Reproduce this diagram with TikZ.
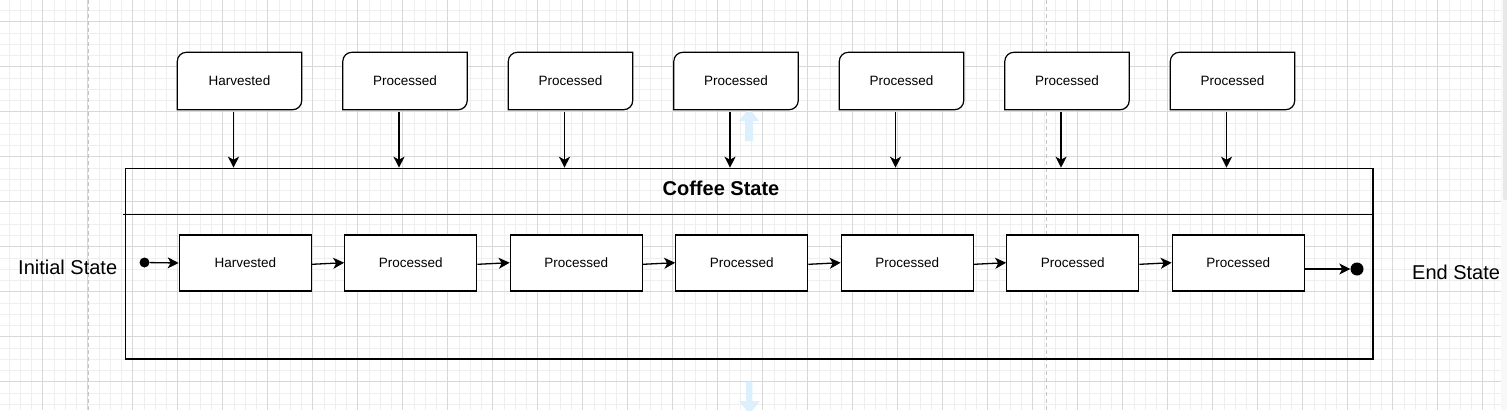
\documentclass[tikz,border=0pt]{standalone}
\usepackage{fontspec}
\setmainfont{Liberation Sans}
\usetikzlibrary{positioning}
\usetikzlibrary{arrows.meta}
\definecolor{gridmajor}{RGB}{216,216,216}
\definecolor{gridminor}{RGB}{239,239,239}
\definecolor{pageline}{RGB}{196,196,196}
\definecolor{hint}{RGB}{220,239,252}
\definecolor{scrollbg}{RGB}{248,248,248}
\definecolor{scrollthumb}{RGB}{232,232,232}

\tikzset{
  statebox/.style={draw,fill=white,line width=1.2pt,minimum width=132pt,minimum height=56pt,inner sep=0pt,font=\fontsize{13.5}{16}\selectfont},
  cardbox/.style={minimum width=124pt,minimum height=57pt,inner sep=0pt,font=\fontsize{13.5}{16}\selectfont},
  cardline/.style={draw,fill=white,line width=1.2pt},
  flow/.style={line width=1.3pt,-{Stealth[length=11pt,width=11pt,inset=3pt]}},
  dot/.style={circle,fill,inner sep=0pt},
  biglabel/.style={anchor=west,inner sep=0pt,font=\fontsize{20}{24}\selectfont},
}

\begin{document}
\begin{tikzpicture}[x=1pt,y=1pt]

  \useasboundingbox (0,0) rectangle (1507,-410);
  \fill[white] (0,0) rectangle (1507,-410);

  \foreach \k in {0,...,132}
    \draw[gridminor,line width=0.9pt] (8.95+11.25*\k,0) -- (8.95+11.25*\k,-410);
  \foreach \k in {0,...,35}
    \draw[gridminor,line width=0.9pt] (0,-10.45-11.25*\k) -- (1501,-10.45-11.25*\k);
  \foreach \k in {0,...,32}
    \draw[gridmajor,line width=0.9pt] (42.7+45*\k,0) -- (42.7+45*\k,-410);
  \foreach \k in {0,...,8}
    \draw[gridmajor,line width=0.9pt] (0,-21.7-45*\k) -- (1501,-21.7-45*\k);
  \fill[scrollbg] (1501,0) rectangle (1507,-410);
  \fill[scrollthumb,rounded corners=2pt] (1503,2) rectangle (1507,-200);

  \draw[pageline,line width=1pt,dash pattern=on 4pt off 3pt] (88.5,0) -- (88.5,-410);
  \draw[pageline,line width=1pt,dash pattern=on 4pt off 3pt] (1046,0) -- (1046,-410);

  \fill[hint] (749,-108) -- (759,-121) -- (753,-121) -- (753,-141) -- (745,-141) -- (745,-121) -- (739,-121) -- cycle;
  \fill[hint] (746,-381.7) -- (752.3,-381.7) -- (752.3,-401) -- (760,-401) -- (749.5,-414) -- (739,-401) -- (746,-401) -- cycle;

  \node[draw,line width=1.2pt,minimum width=1247.3pt,minimum height=190.6pt,anchor=north west] (coffee) at (125,-167.7) {};
  \node[font=\bfseries\fontsize{20}{24}\selectfont] (title) at (721,-188) {Coffee State};
  \coordinate (sep) at (123,-214.3);
  \draw[line width=1.2pt] (sep) -- (sep -| coffee.east);

  \foreach \i/\t in {0/Harvested,1/Processed,2/Processed,3/Processed,4/Processed,5/Processed,6/Processed} {
    \node[cardbox] (c\i) at (239.5+165.5*\i,-81) {};
    \draw[cardline] (c\i.south west) -- ([yshift=-9pt]c\i.north west)
      arc[start angle=180,end angle=90,radius=9pt] -- (c\i.north east)
      -- ([yshift=9pt]c\i.south east) arc[start angle=0,end angle=-90,radius=9pt] -- cycle;
    \node[cardbox] at (c\i) {\t};
    \draw[flow] ([xshift=-6pt,yshift=-2pt]c\i.south) -- ([xshift=-6pt]c\i.south |- coffee.north);
    \node[statebox] (s\i) at (245.3+165.5*\i,-263) {\t};
  }

  \node[dot,minimum size=10pt] (init) at (144.5,-262.5) {};
  \node[dot,minimum size=13pt] (final) at (1357,-269) {};

  \draw[flow] (init) -- (s0.west);
  \foreach \i [evaluate=\i as \j using int(\i+1)] in {0,...,5}
    \draw[flow] ([yshift=-1.3pt]s\i.east) -- ([yshift=0.3pt]s\j.west);
  \draw[flow] (s6.east |- final) -- (final);

  \node[biglabel] (initlabel) at (18,-267) {Initial State};
  \node[biglabel] (endlabel) at (1412,-272) {End State};

\end{tikzpicture}
\end{document}
